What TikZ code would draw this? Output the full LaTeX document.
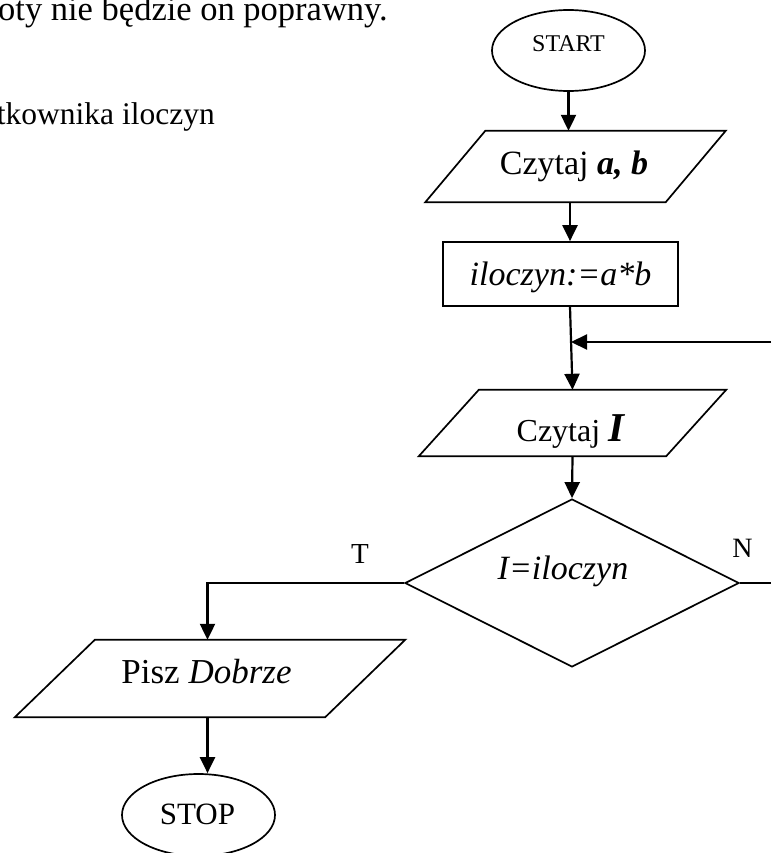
\documentclass[tikz,border=0pt]{standalone}
\usepackage{fontspec}
\setmainfont{Liberation Serif}
\usetikzlibrary{calc,shapes.geometric,arrows.meta}

% font size given directly in points
\newcommand\pxfont[1]{\fontsize{#1}{#1}\selectfont}
% input/output box: a parallelogram drawn around an invisible rectangle node
\newcommand\slantbox[2]{%
  \draw[outline] ($(#1.north west)+(#2,0)$) -- ($(#1.north east)+(#2,0)$)
    -- ($(#1.south east)-(#2,0)$) -- ($(#1.south west)-(#2,0)$) -- cycle;}

\begin{document}
\begin{tikzpicture}[x=1pt,y=-1pt,
  outline/.style={draw=black, line width=1.7pt, inner sep=0pt},
  term/.style={outline, ellipse, minimum width=153pt, minimum height=81pt},
  proc/.style={outline, rectangle},
  decide/.style={outline, diamond},
  iobox/.style={rectangle, inner sep=0pt},
  link/.style={line width=2.2pt},
  flow/.style={link, -{Triangle[length=16pt,width=15pt]}},
  txt/.style={inner sep=0pt, anchor=base},
]
\useasboundingbox (0,0) rectangle (771,853);
\clip (0,0) rectangle (771,853);

% paragraph text above the chart
\node[txt, anchor=base east, font=\pxfont{34.5}] (para1) at (388,21) {oty nie będzie on poprawny.};
\node[txt, anchor=base east, font=\pxfont{31.5}] (para2) at (215,125) {tkownika iloczyn};

% shapes
\node[term] (start) at (568.5,50.5) {};
\node[iobox, minimum width=240pt, minimum height=71pt] (p1) at (575.5,166.5) {};
\slantbox{p1}{30}
\node[proc, minimum width=235pt, minimum height=64pt] (rect) at (560.5,274) {};
\node[iobox, minimum width=247pt, minimum height=66pt] (p2) at (572.5,423) {};
\slantbox{p2}{30}
\node[decide, minimum width=334pt, minimum height=168pt] (dia) at (572,583) {};
\node[iobox, minimum width=310pt, minimum height=77pt] (p3) at (210,678.5) {};
\slantbox{p3}{40}
\node[term, minimum height=82pt] (stop) at (198.5,815) {};

% texts
\node[txt, font=\pxfont{24}] (tstart) at (568.5,52) {START};
\node[txt, font=\pxfont{34}] (tp1) at (574,175) {Czytaj \textbf{\textit{a, b}}};
\node[txt, font=\pxfont{34}\itshape] (trect) at (560.5,285) {iloczyn:=a*b};
\node[txt, font=\pxfont{32}] (tp2) at (571,441.5) {Czytaj {\pxfont{41}\textbf{\textit{I}}}};
\node[txt, font=\pxfont{34}\itshape] (tdia) at (563,579) {I=iloczyn};
\node[txt, font=\pxfont{35}] (tp3) at (206.5,683) {Pisz \textit{Dobrze}};
\node[txt, font=\pxfont{31}] (tstop) at (197.5,824) {STOP};
\node[txt, font=\pxfont{29}] (lt) at (360,563) {T};
\node[txt, font=\pxfont{28}] (ln) at (742.5,557) {N};

% connector guide points
\coordinate (axis) at (570,0);
\coordinate (loopin) at (771,342);
\coordinate (tcol) at (207.5,0);
\coordinate (nout) at (771,583);

% connectors
\draw[flow] (start.south) -- (start.south |- p1.north);
\draw[flow] (p1.south -| axis) -- (rect.north -| axis);
\draw[flow] (rect.south -| axis) -- (p2.north);
\draw[flow] (loopin) -- ($(loopin -| axis)+(1,0)$);
\draw[flow] (p2.south) -- (dia.north);
\draw[flow] (dia.west) -- (dia.west -| tcol) -- (tcol |- p3.north);
\draw[link] (dia.east) -- (nout);
\draw[flow] (p3.south -| tcol) -- (tcol |- stop.north);
\end{tikzpicture}
\end{document}
